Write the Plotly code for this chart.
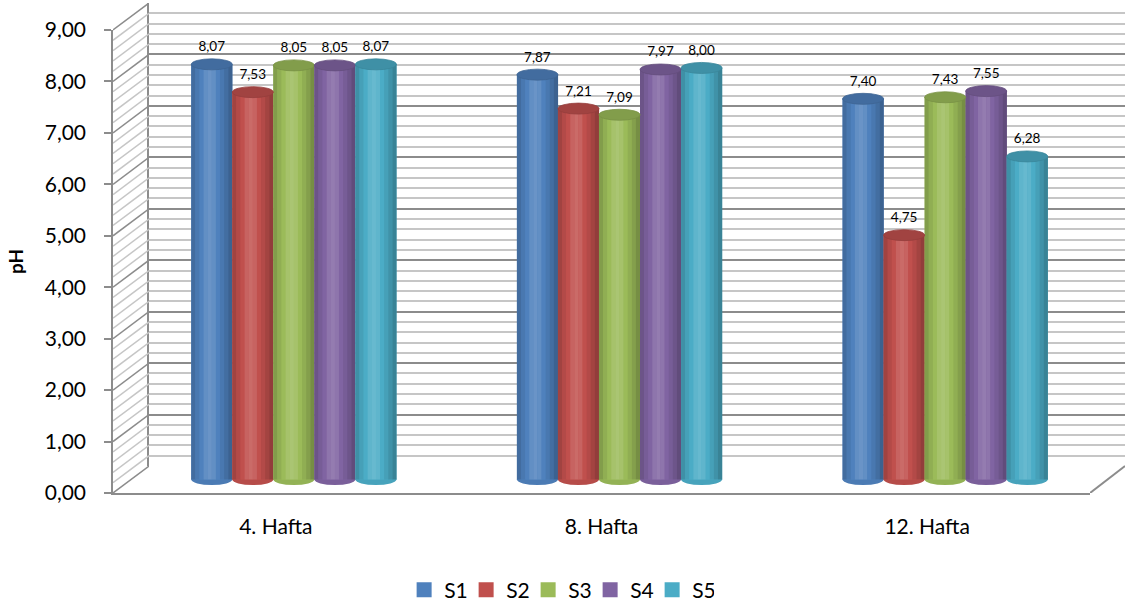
import plotly.graph_objects as go

# ---------------- data ----------------
categories = ["4. Hafta", "8. Hafta", "12. Hafta"]
series_names = ["S1", "S2", "S3", "S4", "S5"]
S1 = [8.07, 7.87, 7.40]
S2 = [7.53, 7.21, 4.75]
S3 = [8.05, 7.09, 7.43]
S4 = [8.05, 7.97, 7.55]
S5 = [8.07, 8.00, 6.28]
series_values = [S1, S2, S3, S4, S5]
y_tick_values = [0, 1, 2, 3, 4, 5, 6, 7, 8, 9]
colors = ["#4F81BD", "#C0504D", "#9BBB59", "#8064A2", "#4BACC6"]

# ---------------- geometry (pixels) ----------------
W, H = 1125, 605
FX0, FX1 = 113, 1090       # front plane x extent
FY0, FY9 = 493, 30         # front plane y of 0 and 9
YMAX = 9
SCALE = (FY0 - FY9) / YMAX  # px per unit
DX, DY = 36, 27            # depth offset of back wall
DYU = DY / SCALE           # depth offset in value units

def px(x):
    return max(0.0, min(1.0, x / W))

def py(y):
    return max(0.0, min(1.0, 1 - y / H))

FONT = "Lato"
GRID_MAJOR = "#8c8c8c"
GRID_MINOR = "#c6c6c6"

def shade(hexcol, f):
    r, g, b = int(hexcol[1:3], 16), int(hexcol[3:5], 16), int(hexcol[5:7], 16)
    out = []
    for c in (r, g, b):
        if f >= 1:
            c = c + (255 - c) * (f - 1) * 2.2
        else:
            c = c * f
        out.append(int(max(0, min(255, round(c)))))
    return "rgb(%d,%d,%d)" % tuple(out)

fig = go.Figure()

# ---------- side wall diagonals (x3 / y3) ----------
minor_x, minor_y, major_x, major_y = [], [], [], []
n_steps = YMAX * 5
for k in range(n_steps + 1):
    v = k / 5
    if k % 5 == 0:
        major_x += [0, 1, None]
        major_y += [v, v + DYU, None]
    else:
        minor_x += [0, 1, None]
        minor_y += [v, v + DYU, None]
fig.add_trace(go.Scatter(x=minor_x, y=minor_y, mode="lines", xaxis="x3", yaxis="y3",
                         line=dict(color=GRID_MINOR, width=1.5), showlegend=False, hoverinfo="skip"))
fig.add_trace(go.Scatter(x=major_x, y=major_y, mode="lines", xaxis="x3", yaxis="y3",
                         line=dict(color=GRID_MAJOR, width=1.5), showlegend=False, hoverinfo="skip"))
# floor right edge
fig.add_trace(go.Scatter(x=[0, 1], y=[0, DYU], mode="lines", xaxis="x4", yaxis="y3",
                         line=dict(color=GRID_MAJOR, width=2), showlegend=False, hoverinfo="skip"))

# ---------- back wall (x2 / y2) : gridlines only ----------
fig.add_trace(go.Scatter(x=[0], y=[0], mode="markers", xaxis="x2", yaxis="y2",
                         marker=dict(opacity=0), showlegend=False, hoverinfo="skip"))

# ---------- front axes (x / y) ----------
fig.add_trace(go.Scatter(x=categories, y=[None] * len(categories), mode="markers",
                         xaxis="x", yaxis="y", showlegend=False, hoverinfo="skip"))

# ---------- cylinders (x5 / y5) ----------
n_series = len(series_values)
bar_w = 0.126
start = -bar_w * n_series / 2
profile = [0.84, 0.93, 1.0, 1.05, 1.07, 1.05, 1.0, 0.93, 0.85, 0.76]
n_sl = len(profile)
shapes = []
cap_e = 5.5 / SCALE
for i, (name, vals, col) in enumerate(zip(series_names, series_values, colors)):
    off = start + i * bar_w
    fig.add_trace(go.Bar(x=categories, y=vals, name=name, xaxis="x5", yaxis="y5",
                         width=bar_w, offset=off, marker=dict(color=col, line=dict(width=0)),
                         showlegend=False, hoverinfo="x+y+name"))
    for s, f in enumerate(profile):
        fig.add_trace(go.Bar(x=categories, y=vals, xaxis="x5", yaxis="y5",
                             width=bar_w / n_sl + 0.0004, offset=off + s * bar_w / n_sl,
                             marker=dict(color=shade(col, f), line=dict(width=0)),
                             showlegend=False, hoverinfo="skip"))
    for j, v in enumerate(vals):
        x0, x1 = j + off, j + off + bar_w
        # bottom rounding
        shapes.append(dict(type="circle", xref="x5", yref="y5", x0=x0, x1=x1,
                           y0=-cap_e, y1=cap_e, fillcolor=shade(col, 0.95),
                           line=dict(width=0), layer="below"))
        # top cap
        shapes.append(dict(type="circle", xref="x5", yref="y5", x0=x0, x1=x1,
                           y0=v - cap_e, y1=v + cap_e, fillcolor=shade(col, 0.84),
                           line=dict(color=shade(col, 0.78), width=0.8), layer="above"))
    # labels (transparent bars on a slightly raised axis)
    fig.add_trace(go.Bar(x=categories, y=vals, xaxis="x5", yaxis="y6",
                         width=bar_w, offset=off,
                         marker=dict(color="rgba(0,0,0,0)", line=dict(width=0)),
                         texttemplate="%{y:.2f}", textposition="outside",
                         textfont=dict(family=FONT, size=13.5, color="#000000"),
                         cliponaxis=False, showlegend=False, hoverinfo="skip"))

# legend entries (square swatches)
for name, col in zip(series_names, colors):
    fig.add_trace(go.Scatter(x=[None], y=[None], mode="markers", name=name,
                             xaxis="x", yaxis="y",
                             marker=dict(symbol="square", size=15, color=col),
                             showlegend=True, hoverinfo="skip"))

# ---------------- layout ----------------
b_top_pad = 0.3
bar_base = FY0 - DY / 2
lab_base = bar_base - 7

layout = dict(
    width=W, height=H, margin=dict(l=0, r=0, t=0, b=0, autoexpand=False),
    paper_bgcolor="white", plot_bgcolor="rgba(0,0,0,0)",
    separators=",.",
    barmode="overlay",
    font=dict(family=FONT, color="#000000"),
    showlegend=True,
    legend=dict(orientation="h", x=0.497, xanchor="center", y=py(590), yanchor="middle",
                font=dict(family=FONT, size=21, color="#000000"), traceorder="normal",
                itemwidth=30, entrywidth=17, entrywidthmode="pixels",
                bgcolor="rgba(0,0,0,0)"),
    shapes=shapes,
    xaxis=dict(domain=[px(FX0), px(FX1)], anchor="y", type="category", range=[-0.5, 2.5],
               showgrid=False, zeroline=False, showline=True, linecolor=GRID_MAJOR, linewidth=2,
               ticks="", ticklabelstandoff=14, automargin=False,
               tickfont=dict(family=FONT, size=21, color="#000000"), fixedrange=True),
    yaxis=dict(domain=[py(FY0), py(FY9)], anchor="x", range=[0, YMAX],
               tickvals=y_tick_values, tickformat=".2f", automargin=False,
               showgrid=False, zeroline=False, showline=True, linecolor=GRID_MAJOR, linewidth=1.5,
               ticks="outside", ticklen=7, tickcolor=GRID_MAJOR, tickwidth=1.5,
               ticklabelstandoff=14,
               tickfont=dict(family=FONT, size=21, color="#000000"),
               title=dict(text="<b>pH</b>", font=dict(family=FONT, size=19, color="#000000"),
                          standoff=16), fixedrange=True),
    xaxis2=dict(domain=[px(FX0 + DX), px(FX1 + DX)], anchor="y2", range=[0, 1],
                showgrid=False, zeroline=False, showline=False, showticklabels=False, ticks="",
                automargin=False, fixedrange=True),
    yaxis2=dict(domain=[py(FY0 - DY), py(FY9 - DY)], anchor="x2", range=[0, YMAX],
                dtick=1, showgrid=True, gridcolor=GRID_MAJOR, gridwidth=1.5,
                minor=dict(dtick=0.2, showgrid=True, gridcolor=GRID_MINOR, gridwidth=1.5),
                zeroline=False, showline=True, linecolor=GRID_MAJOR, linewidth=1.5,
                showticklabels=False, ticks="", automargin=False, fixedrange=True),
    xaxis3=dict(domain=[px(FX0), px(FX0 + DX)], anchor="y3", range=[0, 1], visible=False,
                automargin=False, fixedrange=True),
    yaxis3=dict(domain=[py(FY0), py(FY9 - DY)], anchor="x3", range=[0, YMAX + DYU],
                visible=False, automargin=False, fixedrange=True),
    xaxis4=dict(domain=[px(FX1), px(FX1 + DX)], anchor="y3", range=[0, 1], visible=False,
                automargin=False, fixedrange=True),
    xaxis5=dict(domain=[px(FX0 + DX / 2), px(FX1 + DX / 2)], anchor="y5", type="category",
                range=[-0.5, 2.5], visible=False, automargin=False, fixedrange=True),
    yaxis5=dict(domain=[py(bar_base + b_top_pad * SCALE), py(bar_base - 9.3 * SCALE)],
                anchor="x5", range=[-b_top_pad, 9.3], visible=False, automargin=False,
                fixedrange=True),
    yaxis6=dict(domain=[py(lab_base + b_top_pad * SCALE), py(lab_base - 9.1 * SCALE)],
                anchor="x5", range=[-b_top_pad, 9.1], visible=False, automargin=False,
                fixedrange=True),
)
fig.update_layout(**layout)
fig.write_html("out.html")
